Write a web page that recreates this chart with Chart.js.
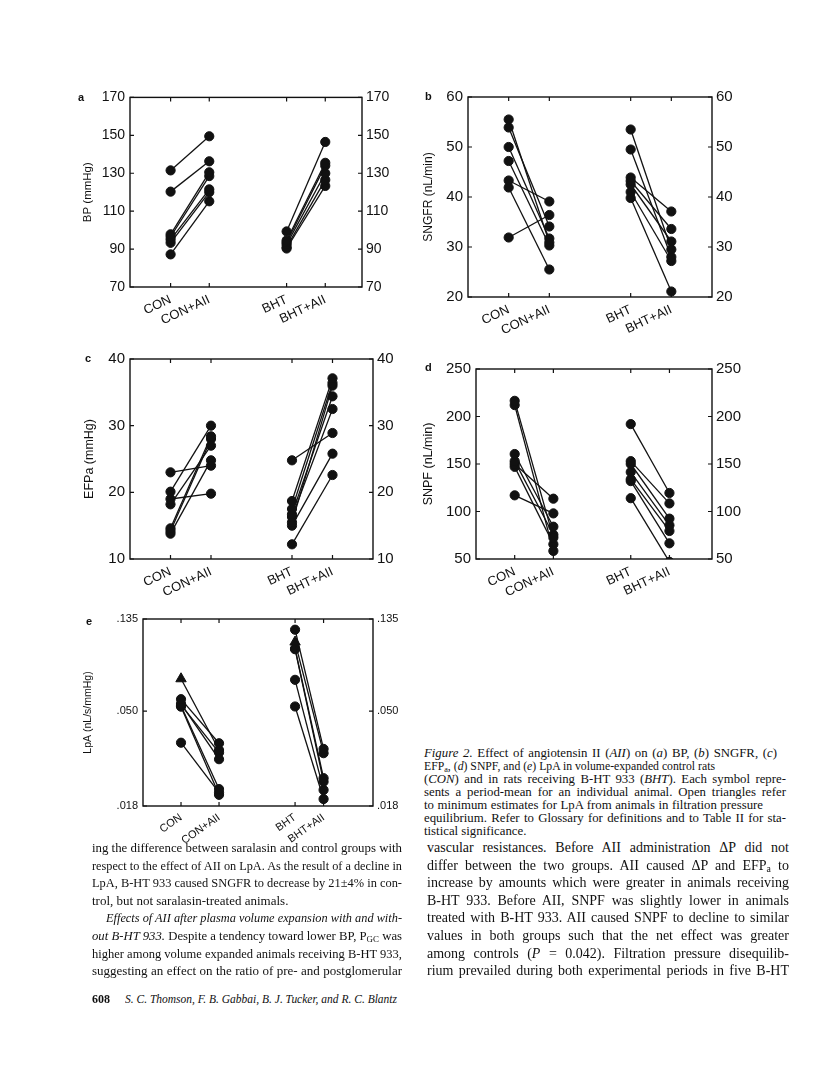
<!DOCTYPE html>
<html>
<head>
<meta charset="utf-8">
<title>Figure 2</title>
<script src="https://cdn.jsdelivr.net/npm/chart.js@4.4.1/dist/chart.umd.min.js"></script>
<style>
  html, body { margin: 0; padding: 0; background: #fff; }
  #page { position: relative; width: 816px; height: 1071px; overflow: hidden; background: #fff; color: #111; }
  #page canvas { position: absolute; }
  .tag { position: absolute; font: bold 11px 'Liberation Sans', Arial, sans-serif; line-height: 12px; }
  .ln { position: absolute; white-space: nowrap; font-family: 'Liberation Serif', 'Times New Roman', serif; transform-origin: 0 50%; }
  .bodyL { font-size: 13px; line-height: 16px; }
  .bodyR { font-size: 14px; line-height: 16px; }
  .cap { font-size: 12.8px; line-height: 13px; }
  .foot { font-size: 12px; line-height: 16px; }
  sub { font-size: 70%; vertical-align: -0.25em; line-height: 0; }
</style>
</head>
<body>
<div id="page"></div>
<script>
const groups = ['CON', 'CON+AII', 'BHT', 'BHT+AII'];

// (a) BP, mmHg
const bpTicks = [70, 90, 110, 130, 150, 170];
const bpCon = [131.5, 120.3, 97.8, 96.5, 95.0, 93.3, 87.2];
const bpConAII = [149.5, 136.3, 130.5, 128.5, 121.5, 120.0, 115.2];
const bpBht = [99.3, 94.5, 93.5, 92.5, 91.0, 90.3];
const bpBhtAII = [146.5, 135.5, 134.0, 130.0, 126.5, 123.3];

// (b) SNGFR, nL/min
const sngfrTicks = [20, 30, 40, 50, 60];
const sngfrCon = [55.5, 53.9, 50.0, 47.2, 43.3, 41.9, 31.9];
const sngfrConAII = [30.9, 34.1, 31.7, 30.3, 39.1, 25.5, 36.4];
const sngfrBht = [53.5, 49.5, 43.9, 43.2, 42.5, 41.0, 39.8];
const sngfrBhtAII = [29.5, 28.0, 37.1, 33.6, 31.1, 27.2, 21.1];

// (c) EFPa, mmHg
const efpTicks = [10, 20, 30, 40];
const efpCon = [23.0, 20.1, 19.0, 18.2, 14.6, 14.2, 13.8];
const efpConAII = [24.0, 30.0, 19.8, 27.0, 28.4, 28.0, 24.8];
const efpBht = [24.8, 18.7, 17.5, 16.7, 16.3, 15.5, 15.0, 12.2];
const efpBhtAII = [28.9, 37.1, 36.4, 34.4, 32.5, 36.0, 25.8, 22.6];

// (d) SNPF, nL/min
const snpfTicks = [50, 100, 150, 200, 250];
const snpfCon = [216.5, 212.0, 160.5, 153.0, 150.0, 147.0, 117.0];
const snpfConAII = [72.5, 58.5, 84.0, 75.5, 113.5, 65.5, 98.0];
const snpfBht = [192.0, 153.0, 150.0, 141.5, 134.0, 132.0, 114.0];
const snpfBhtAII = [119.5, 108.5, 92.5, 85.5, 79.5, 66.5, 47.0];

// (e) LpA, nL/s/mmHg (log axis); flags = minimum estimates (triangles)
const lpaTicks = [0.018, 0.050, 0.135];
const lpaTickLabels = ['.018', '.050', '.135'];
const lpaCon = [0.0709, 0.0569, 0.0541, 0.0535, 0.0530, 0.0525, 0.0356];
const lpaConAII = [0.0329, 0.0354, 0.0298, 0.0320, 0.0216, 0.0203, 0.0208];
const lpaConMin = [true, false, false, false, false, false, false];
const lpaBht = [0.1203, 0.1053, 0.0980, 0.0975, 0.0701, 0.0526];
const lpaBhtAII = [0.0333, 0.0318, 0.0243, 0.0234, 0.0214, 0.0194];
const lpaBhtMin = [false, true, false, false, false, false];

const INK = '#111';
const SANS = "'Liberation Sans', Arial, sans-serif";
const page = document.getElementById('page');

const panels = [
  { tag: 'a', tagAt: [78, 91], title: 'BP (mmHg)', titleSize: 11.5, titleX: 88,
    box: [130, 96, 362, 287], xRange: [-0.05, 5.95], slots: [1, 2, 4, 5],
    tickSize: 14, labelSize: 13, rot: 25, yTicks: bpTicks,
    series: [bpCon, bpConAII, bpBht, bpBhtAII] },
  { tag: 'b', tagAt: [425, 90], title: 'SNGFR (nL/min)', titleSize: 12, titleX: 428,
    box: [468, 95, 712, 297], xRange: [0, 6], slots: [1, 2, 4, 5],
    tickSize: 15, labelSize: 13, rot: 25, yTicks: sngfrTicks,
    series: [sngfrCon, sngfrConAII, sngfrBht, sngfrBhtAII] },
  { tag: 'c', tagAt: [85, 352], title: 'EFPa (mmHg)', titleSize: 12.5, titleX: 89,
    box: [130, 357, 373, 559], xRange: [0, 6], slots: [1, 2, 4, 5],
    tickSize: 15, labelSize: 13, rot: 25, yTicks: efpTicks,
    series: [efpCon, efpConAII, efpBht, efpBhtAII] },
  { tag: 'd', tagAt: [425, 361], title: 'SNPF (nL/min)', titleSize: 12.5, titleX: 428,
    box: [476, 367, 712, 559], xRange: [0, 6.1], slots: [1, 2, 4, 5],
    tickSize: 15, labelSize: 13, rot: 25, yTicks: snpfTicks,
    series: [snpfCon, snpfConAII, snpfBht, snpfBhtAII] },
  { tag: 'e', tagAt: [86, 615], title: 'LpA (nL/s/mmHg)', titleSize: 10.5, titleX: 89,
    box: [143, 619, 373, 806], xRange: [0, 6.05], slots: [1, 2, 4, 4.75],
    tickSize: 11, labelSize: 11, rot: 35, yTicks: lpaTicks, yLabels: lpaTickLabels, log: true,
    series: [lpaCon, lpaConAII, lpaBht, lpaBhtAII], flags: [lpaConMin, lpaBhtMin] }
];

function pairSets(before, after, x0, x1, flags) {
  return before.map((v, i) => {
    const tri = flags && flags[i];
    return {
      data: [{ x: x0, y: v }, { x: x1, y: after[i] }],
      showLine: true,
      borderColor: INK,
      borderWidth: 1.3,
      pointStyle: tri ? ['triangle', 'circle'] : 'circle',
      pointRadius: tri ? [6, 4.6] : 4.6,
      pointBackgroundColor: INK,
      pointBorderColor: INK,
      pointBorderWidth: 1
    };
  });
}

// box round the plot and inward tick marks on all four sides
const framePlugin = {
  id: 'frame',
  beforeDatasetsDraw(chart) {
    const { ctx, chartArea: a, scales } = chart;
    ctx.save();
    ctx.strokeStyle = INK;
    ctx.lineWidth = 1.4;
    ctx.strokeRect(a.left, a.top, a.right - a.left, a.bottom - a.top);
    ctx.lineWidth = 1.2;
    ctx.beginPath();
    scales.x.ticks.forEach(t => {
      const px = scales.x.getPixelForValue(t.value);
      ctx.moveTo(px, a.bottom); ctx.lineTo(px, a.bottom - 4);
      ctx.moveTo(px, a.top); ctx.lineTo(px, a.top + 4);
    });
    scales.y.ticks.forEach(t => {
      const py = scales.y.getPixelForValue(t.value);
      ctx.moveTo(a.left, py); ctx.lineTo(a.left + 4, py);
      ctx.moveTo(a.right, py); ctx.lineTo(a.right - 4, py);
    });
    ctx.stroke();
    ctx.restore();
  }
};

function yScale(p, side, width) {
  return {
    type: p.log ? 'logarithmic' : 'linear',
    position: side,
    min: p.yTicks[0],
    max: p.yTicks[p.yTicks.length - 1],
    grid: { display: false, drawTicks: false },
    border: { display: false },
    afterBuildTicks: s => { s.ticks = p.yTicks.map(v => ({ value: v })); },
    afterFit: s => { s.width = width; },
    ticks: {
      color: INK,
      padding: side === 'left' ? 5 : 4,
      font: { size: p.tickSize, family: SANS },
      callback: (v, i) => p.yLabels ? p.yLabels[i] : v
    },
    title: {
      display: side === 'left',
      text: p.title,
      color: INK,
      padding: 0,
      font: { size: p.titleSize, family: SANS }
    }
  };
}

function makePanel(p) {
  const [L, T, R, B] = p.box;
  const lw = Math.round(L - p.titleX + 7);
  const rw = 40, top = 12, xh = 50;
  const canvas = document.createElement('canvas');
  canvas.width = lw + (R - L) + rw;
  canvas.height = top + (B - T) + xh;
  canvas.style.left = (L - lw) + 'px';
  canvas.style.top = (T - top) + 'px';
  page.appendChild(canvas);

  const tag = document.createElement('div');
  tag.className = 'tag';
  tag.textContent = p.tag;
  tag.style.left = p.tagAt[0] + 'px';
  tag.style.top = p.tagAt[1] + 'px';
  page.appendChild(tag);

  const [con, conAII, bht, bhtAII] = p.series;
  const flags = p.flags || [];
  const s = p.slots;
  const datasets = pairSets(con, conAII, s[0], s[1], flags[0])
    .concat(pairSets(bht, bhtAII, s[2], s[3], flags[1]));

  new Chart(canvas, {
    type: 'scatter',
    data: { datasets },
    options: {
      responsive: false,
      animation: false,
      events: [],
      layout: { padding: { top: top, left: 0, right: 0, bottom: 0 } },
      plugins: { legend: { display: false }, tooltip: { enabled: false } },
      scales: {
        x: {
          type: 'linear',
          min: p.xRange[0],
          max: p.xRange[1],
          grid: { display: false, drawTicks: false },
          border: { display: false },
          afterBuildTicks: sc => { sc.ticks = s.map(v => ({ value: v })); },
          afterFit: sc => { sc.height = xh; },
          ticks: {
            autoSkip: false,
            minRotation: p.rot,
            maxRotation: p.rot,
            padding: 5,
            color: INK,
            font: { size: p.labelSize, family: SANS },
            callback: v => groups[s.indexOf(v)]
          }
        },
        y: yScale(p, 'left', lw),
        y2: yScale(p, 'right', rw)
      }
    },
    plugins: [framePlugin]
  });
}

panels.forEach(makePanel);

// ---- page text ----
const captionLines = [
  '<i>Figure 2.</i> Effect of angiotensin II (<i>AII</i>) on (<i>a</i>) BP, (<i>b</i>) SNGFR, (<i>c</i>)',
  'EFP<sub>a</sub>, (<i>d</i>) SNPF, and (<i>e</i>) LpA in volume-expanded control rats',
  '(<i>CON</i>) and in rats receiving B-HT 933 (<i>BHT</i>). Each symbol repre-',
  'sents a period-mean for an individual animal. Open triangles refer',
  'to minimum estimates for LpA from animals in filtration pressure',
  'equilibrium. Refer to Glossary for definitions and to Table II for sta-',
  'tistical significance.'
];
// right end of each caption line in the scan (0 = leave at natural width)
const captionEnds = [777, 715, 786, 786, 763, 786, 0];

const leftLines = [
  'ing the difference between saralasin and control groups with',
  'respect to the effect of AII on LpA. As the result of a decline in',
  'LpA, B-HT 933 caused SNGFR to decrease by 21±4% in con-',
  'trol, but not saralasin-treated animals.',
  '<i>Effects of AII after plasma volume expansion with and with-</i>',
  '<i>out B-HT 933.</i> Despite a tendency toward lower BP, P<sub>GC</sub> was',
  'higher among volume expanded animals receiving B-HT 933,',
  'suggesting an effect on the ratio of pre- and postglomerular'
];
const rightLines = [
  'vascular resistances. Before AII administration ΔP did not',
  'differ between the two groups. AII caused ΔP and EFP<sub>a</sub> to',
  'increase by amounts which were greater in animals receiving',
  'B-HT 933. Before AII, SNPF was slightly lower in animals',
  'treated with B-HT 933. AII caused SNPF to decline to similar',
  'values in both groups such that the net effect was greater',
  'among controls (<i>P</i> = 0.042). Filtration pressure disequilib-',
  'rium prevailed during both experimental periods in five B-HT'
];

function addLine(html, cls, x, yc, lh, width) {
  const d = document.createElement('div');
  d.className = 'ln ' + cls;
  d.innerHTML = html;
  d.style.left = x + 'px';
  d.style.top = (yc - lh / 2) + 'px';
  page.appendChild(d);
  if (width > 0) {
    const nat = d.getBoundingClientRect().width;
    if (nat > width) {
      d.style.transform = 'scaleX(' + (width / nat) + ')';
    } else {
      const gaps = (d.textContent.match(/ /g) || []).length;
      if (gaps) d.style.wordSpacing = ((width - nat) / gaps) + 'px';
    }
  }
  return d;
}

captionLines.forEach((t, i) => {
  addLine(t, 'cap', 424, 753 + i * 13.1, 13, captionEnds[i] ? captionEnds[i] - 424 : 0);
});

leftLines.forEach((t, i) => {
  const indent = i === 4 ? 14 : 0;
  addLine(t, 'bodyL', 92 + indent, 848 + i * 17.6, 16, i === 3 ? 0 : 310 - indent);
});
rightLines.forEach((t, i) => {
  addLine(t, 'bodyR', 427, 848 + i * 17.6, 16, 362);
});

addLine('<b>608</b>', 'foot', 92, 999, 16, 0);
addLine('<i>S. C. Thomson, F. B. Gabbai, B. J. Tucker, and R. C. Blantz</i>', 'foot', 125, 999, 16, 272);
</script>
</body>
</html>
